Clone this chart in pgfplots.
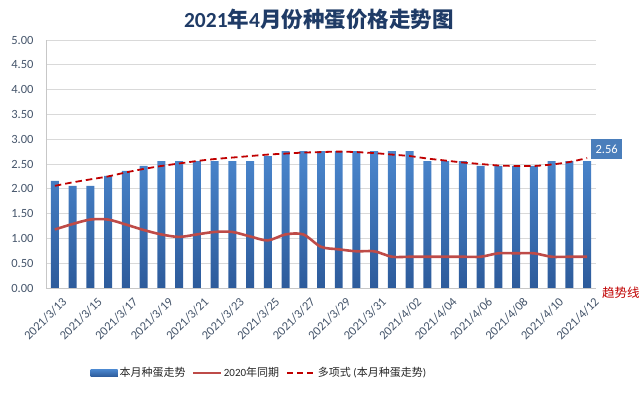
\documentclass[border=0pt]{standalone}
\usepackage{fontspec}
\setmainfont{Carlito}
\newfontfamily\cjk{Noto Sans CJK SC}
\usepackage{pgfplots}
\pgfplotsset{compat=1.18}
\usepackage{pgfplotstable}

\definecolor{bartop}{HTML}{4A86CD}
\definecolor{barbot}{HTML}{2D5B9B}
\definecolor{line20}{HTML}{BE4B48}
\definecolor{trendred}{HTML}{C00000}
\definecolor{gridc}{HTML}{D9D9D9}
\definecolor{tickc}{HTML}{44546A}
\definecolor{titlec}{HTML}{1F3B66}
\definecolor{lblbox}{HTML}{4A7EBB}

\pgfplotstableread{
x bar y2020 trend
0  2.16 1.18 2.06
1  2.06 1.29 2.13
2  2.06 1.38 2.19
3  2.26 1.38 2.25
4  2.36 1.28 2.33
5  2.46 1.17 2.40
6  2.56 1.08 2.46
7  2.56 1.03 2.51
8  2.56 1.08 2.56
9  2.56 1.13 2.60
10 2.56 1.13 2.63
11 2.56 1.04 2.66
12 2.66 0.96 2.69
13 2.76 1.08 2.71
14 2.76 1.08 2.73
15 2.76 0.83 2.74
16 2.76 0.78 2.75
17 2.76 0.74 2.74
18 2.76 0.74 2.72
19 2.76 0.63 2.69
20 2.76 0.63 2.66
21 2.56 0.63 2.61
22 2.56 0.63 2.57
23 2.56 0.63 2.53
24 2.46 0.63 2.50
25 2.46 0.70 2.47
26 2.46 0.70 2.46
27 2.46 0.70 2.46
28 2.56 0.63 2.49
29 2.56 0.63 2.54
30 2.56 0.63 2.62
}\data

\begin{document}
\begin{tikzpicture}
\path[use as bounding box] (-46pt,-105pt) rectangle (597pt,288pt);
\begin{axis}[
  at={(0pt,0pt)}, anchor=south west,
  scale only axis, width=550pt, height=248pt,
  xmin=-0.5, xmax=30.5, ymin=0, ymax=5,
  ytick={0,0.5,...,5},
  xtick={0,2,...,30},
  xticklabels={2021/3/13,2021/3/15,2021/3/17,2021/3/19,2021/3/21,2021/3/23,2021/3/25,2021/3/27,2021/3/29,2021/3/31,2021/4/02,2021/4/04,2021/4/06,2021/4/08,2021/4/10,2021/4/12},
  yticklabel style={/pgf/number format/fixed, /pgf/number format/fixed zerofill, /pgf/number format/precision=2, /pgf/number format/assume math mode=true},
  yticklabel style={font=\fontsize{12.5}{12.5}\selectfont, text=tickc, xshift=-9pt},
  xticklabel style={font=\fontsize{12.5}{12.5}\selectfont, text=tickc, rotate=45, anchor=north east, yshift=-7pt, xshift=2pt},
  axis lines*=left,
  axis line style={draw=gridc!80!gray, -},
  major tick length=0pt,
  ymajorgrids, grid style={draw=gridc, line width=0.8pt},
  clip=false,
  legend style={at={(axis description cs:0.388,-0.343)}, anchor=center, draw=none, fill=none,
    legend columns=-1, font=\fontsize{11}{11}\selectfont, text=black!85,
    /tikz/every even column/.append style={column sep=5pt},
    /tikz/every odd column/.append style={column sep=0pt}},
]
\addplot[ybar, bar width=0.45, draw=none, top color=bartop, bottom color=barbot,
  legend image code/.code={\fill[barbot] (0pt,-3.5pt) rectangle (27pt,3.5pt);}]
  table[x=x, y=bar] {\data};
\addlegendentry{\cjk 本月种蛋走势}
\addplot[line20, line width=2.6pt, smooth, no markers,
  legend image code/.code={\draw[line20, line width=1.2pt] (0pt,0pt) -- (28pt,0pt);}]
  table[x=x, y=y2020] {\data};
\addlegendentry{2020{\cjk 年同期}}
\addplot[trendred, line width=1.8pt, dash pattern=on 6.5pt off 4pt, smooth, no markers,
  legend image code/.code={\draw[trendred, line width=1.8pt, dash pattern=on 6pt off 4pt] (0pt,0pt) -- (28pt,0pt);}]
  table[x=x, y=trend] {\data};
\addlegendentry{{\cjk 多项式} ({\cjk 本月种蛋走势})}

\node[fill=lblbox, text=white, font=\fontsize{12.5}{12.5}\selectfont, minimum width=31pt, minimum height=20pt, inner sep=0pt]
  at (axis cs:30,2.56) [xshift=19.5pt, yshift=12pt] {2.56};
\node[text=trendred, font=\cjk\fontsize{12.5}{12.5}\selectfont, inner sep=0pt]
  at (axis description cs:1.045,-0.02) {趋势线};
\node[text=titlec, font=\fontsize{21.5}{21.5}\selectfont\bfseries, inner sep=0pt]
  at (axis description cs:0.496,1.081) {2021{\cjk 年}4{\cjk 月份种蛋价格走势图}};
\end{axis}
\end{tikzpicture}
\end{document}
